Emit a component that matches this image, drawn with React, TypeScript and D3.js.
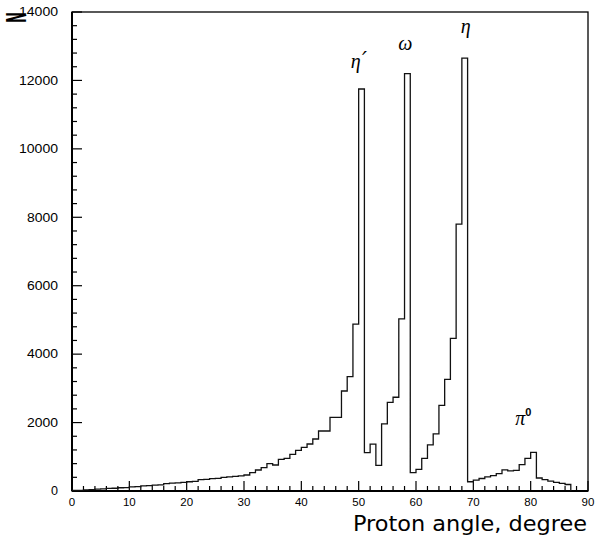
import React from "react";
import * as d3 from "d3";

// Histogram: one-degree bins starting at 0 degrees
const binStart = 0;
const binWidth = 1;
const counts: number[] = [
  15, 20, 30, 40, 55, 60, 75, 80, 95, 100,
  120, 130, 150, 155, 170, 180, 215, 230, 240, 250,
  270, 280, 330, 340, 360, 370, 400, 410, 430, 440,
  468, 536, 614, 681, 798, 760, 926, 955, 1072, 1189,
  1276, 1374, 1520, 1754, 1754, 2154, 2154, 2923, 3341, 4880,
  11750, 1120, 1370, 750, 1960, 2590, 2740, 5030, 12200, 535,
  630, 955, 1350, 1670, 2500, 3260, 4460, 7800, 12650, 270,
  320, 365, 415, 450, 510, 620, 590, 600, 770, 955,
  1130, 380, 330, 290, 255, 220, 190,
];

const xTicksMajor = [0, 10, 20, 30, 40, 50, 60, 70, 80, 90];
const yTicksMajor = [0, 2000, 4000, 6000, 8000, 10000, 12000, 14000];

const peakLabels = [
  { text: "η", prime: "′", sup: "", x: 48.6, y: 12350 },
  { text: "ω", prime: "", sup: "", x: 56.9, y: 12900 },
  { text: "η", prime: "", sup: "", x: 67.8, y: 13400 },
  { text: "π", prime: "", sup: "0", x: 77.3, y: 1920 },
];

const W = 595;
const H = 543;
const left = 72;
const right = 588;
const top = 12;
const bottom = 491;

export default function App() {
  const x = d3.scaleLinear().domain([0, 90]).range([left, right]);
  const y = d3.scaleLinear().domain([0, 14000]).range([bottom, top]);

  const pts: [number, number][] = counts.map((c, i) => [binStart + i * binWidth, c]);
  const lastEdge = binStart + counts.length * binWidth;
  pts.push([lastEdge, counts[counts.length - 1]]);
  const line = d3
    .line<[number, number]>()
    .x((d) => x(d[0]))
    .y((d) => y(d[1]))
    .curve(d3.curveStepAfter);
  const path = line(pts) + `L${x(lastEdge)},${y(0)}`;

  const xMinor = d3.range(0, 91, 2);
  const yMinor = d3.range(0, 14001, 400);

  const tickFont = "'Liberation Sans', Arial, sans-serif";

  return (
    <svg
      width={W}
      height={H}
      style={{ position: "absolute", left: 0, top: 0, background: "#fff" }}
    >
      <rect x={0} y={0} width={W} height={H} fill="#fff" />
      {/* frame */}
      <rect
        x={left}
        y={top}
        width={right - left}
        height={bottom - top}
        fill="none"
        stroke="#000"
        strokeWidth={1.3}
      />
      <line x1={left} y1={top} x2={left} y2={bottom} stroke="#000" strokeWidth={2} />
      <line x1={left} y1={bottom} x2={right} y2={bottom} stroke="#000" strokeWidth={2} />

      {/* x ticks */}
      {xMinor.map((t) => {
        const major = t % 10 === 0;
        return (
          <line
            key={"xt" + t}
            x1={x(t)}
            x2={x(t)}
            y1={bottom}
            y2={bottom - (major ? 10 : 5)}
            stroke="#000"
            strokeWidth={1.2}
          />
        );
      })}
      {xTicksMajor.map((t) => (
        <text
          key={"xl" + t}
          x={x(t)}
          y={506}
          textAnchor="middle"
          fontFamily={tickFont}
          fontSize={11.5}
          fill="#000"
        >
          {t}
        </text>
      ))}

      {/* y ticks */}
      {yMinor.map((t) => {
        const major = t % 2000 === 0;
        return (
          <line
            key={"yt" + t}
            x1={left}
            x2={left + (major ? 10 : 5)}
            y1={y(t)}
            y2={y(t)}
            stroke="#000"
            strokeWidth={1.2}
          />
        );
      })}
      {yTicksMajor.map((t) => {
        const s = String(t);
        return (
          <text
            key={"yl" + t}
            x={58}
            y={y(t) + 4.3}
            textAnchor="end"
            fontFamily={tickFont}
            fontSize={12}
            textLength={s.length * 8 - 1}
            lengthAdjust="spacingAndGlyphs"
            fill="#000"
          >
            {s}
          </text>
        );
      })}

      {/* histogram */}
      <path d={path} fill="none" stroke="#111" strokeWidth={1.3} />

      {/* peak labels */}
      {peakLabels.map((p, i) => (
        <text
          key={"pl" + i}
          x={x(p.x)}
          y={y(p.y)}
          textAnchor="start"
          fontFamily="'Liberation Serif', 'DejaVu Serif', serif"
          fontStyle="italic"
          fontSize={20}
          fill="#000"
        >
          {p.text}
          {p.prime ? (
            <tspan dx={1.5} dy={-1} fontSize={22} fontFamily="'DejaVu Sans', sans-serif">
              {p.prime}
            </tspan>
          ) : null}
          {p.sup ? (
            <tspan
              dy={-9}
              fontSize={11}
              fontStyle="normal"
              fontFamily="'Liberation Sans', Arial, sans-serif"
              fontWeight="bold"
            >
              {p.sup}
            </tspan>
          ) : null}
        </text>
      ))}

      {/* axis titles */}
      <text
        x={587}
        y={531}
        textAnchor="end"
        fontFamily="'DejaVu Sans', sans-serif"
        fontSize={22}
        textLength={234}
        lengthAdjust="spacingAndGlyphs"
        fill="#000"
      >
        Proton angle, degree
      </text>
      <text
        transform="translate(26,23) rotate(-90)"
        x={0}
        y={0}
        fontFamily="'DejaVu Sans', sans-serif"
        fontWeight="bold"
        fontSize={26}
        textLength={11}
        lengthAdjust="spacingAndGlyphs"
        fill="#000"
      >
        N
      </text>
    </svg>
  );
}
